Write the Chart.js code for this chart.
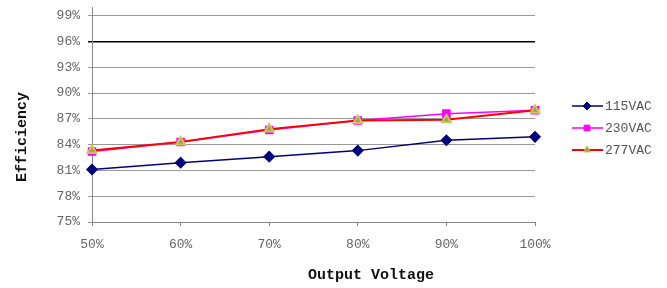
<!DOCTYPE html>
<html>
<head>
<meta charset="utf-8">
<script src="https://cdn.jsdelivr.net/npm/chart.js@4"></script>
<style>
  html, body { margin: 0; padding: 0; background: #fff; }
  #wrap { width: 667px; height: 288px; position: relative; }
</style>
</head>
<body>
<div id="wrap"><canvas id="chart"></canvas></div>
<script>
// ── Data ───────────────────────────────────────────────────────
const LOADS     = ['50%', '60%', '70%', '80%', '90%', '100%'];
const EFF_115   = [81.1, 81.9, 82.6, 83.3, 84.5, 84.9];
const EFF_230   = [83.2, 84.3, 85.7, 86.8, 87.6, 88.0];
const EFF_277   = [83.3, 84.3, 85.8, 86.8, 86.9, 88.0];
const Y_TICKS   = [75, 78, 81, 84, 87, 90, 93, 96, 99];

const FONT = '"Liberation Mono", "DejaVu Sans Mono", monospace';

// ── Plugins: axis titles + side legend (Excel style) ───────────
const axisTitles = {
  id: 'axisTitles',
  afterDraw(chart) {
    const ctx = chart.ctx;
    ctx.save();
    ctx.fillStyle = '#111';
    ctx.font = 'bold 15px ' + FONT;
    ctx.textAlign = 'center';
    ctx.textBaseline = 'middle';
    ctx.fillText('Output Voltage', 371, 275);
    ctx.translate(22, 137);
    ctx.rotate(-Math.PI / 2);
    ctx.fillText('Efficiency', 0, 0);
    ctx.restore();
  }
};

const sideLegend = {
  id: 'sideLegend',
  afterDraw(chart) {
    const ctx = chart.ctx;
    const rowY = [106, 128, 150];
    chart.data.datasets.forEach((ds, i) => {
      const y = rowY[i];
      ctx.save();
      ctx.strokeStyle = ds.borderColor;
      ctx.lineWidth = ds.borderWidth;
      ctx.beginPath();
      ctx.moveTo(572, y);
      ctx.lineTo(603, y);
      ctx.stroke();
      ctx.fillStyle = ds.pointBackgroundColor;
      ctx.strokeStyle = ds.pointBorderColor;
      ctx.lineWidth = 1;
      Chart.helpers.drawPoint(ctx, {
        pointStyle: ds.pointStyle,
        radius: ds.pointRadius - 1,
        rotation: 0,
        borderWidth: 1
      }, 587, y);
      ctx.fillStyle = '#555';
      ctx.font = '13px ' + FONT;
      ctx.textAlign = 'left';
      ctx.textBaseline = 'middle';
      ctx.fillText(ds.label, 605, y + 1);
      ctx.restore();
    });
  }
};

// ── Chart ──────────────────────────────────────────────────────
new Chart(document.getElementById('chart'), {
  type: 'line',
  data: {
    labels: LOADS,
    datasets: [
      {
        label: '115VAC', data: EFF_115,
        borderColor: '#000080', backgroundColor: '#000080',
        pointBackgroundColor: '#000080', pointBorderColor: '#000080',
        borderWidth: 1.5, pointStyle: 'rectRot', pointRadius: 5, order: 2,
      },
      {
        label: '230VAC', data: EFF_230,
        borderColor: '#FF00FF', backgroundColor: '#FF00FF',
        pointBackgroundColor: '#FF00FF', pointBorderColor: '#FF00FF',
        borderWidth: 1.5, pointStyle: 'rect', pointRadius: 5, order: 1,
      },
      {
        label: '277VAC', data: EFF_277,
        borderColor: '#FF0000', backgroundColor: '#FF0000',
        pointBackgroundColor: '#9C9C6A', pointBorderColor: '#C8C850',
        borderWidth: 2, pointStyle: 'triangle', pointRadius: 5, order: 0,
      },
    ],
  },
  options: {
    responsive: true,
    maintainAspectRatio: false,
    animation: false,
    layout: { padding: { top: 5, right: 132, left: 0, bottom: 0 } },
    plugins: { legend: { display: false }, tooltip: { enabled: false } },
    elements: { line: { tension: 0 } },
    scales: {
      x: {
        type: 'category',
        offset: false,
        afterFit: s => { s.height = 66; s.paddingLeft = 0; s.paddingRight = 0; },
        grid: { drawOnChartArea: false, drawTicks: true, tickLength: 4, color: '#888' },
        border: { color: '#888', width: 1 },
        ticks: { color: '#666', font: { family: FONT, size: 13 }, padding: 11, maxRotation: 0 },
      },
      y: {
        min: 75, max: 100,
        afterFit: s => { s.width = 92; s.paddingTop = 0; s.paddingBottom = 0; },
        afterBuildTicks: s => { s.ticks = Y_TICKS.map(v => ({ value: v })); },
        grid: {
          tickLength: 4,
          color: c => (c.tick && c.tick.value === 96 ? '#000' : '#999'),
          lineWidth: c => (c.tick && c.tick.value === 96 ? 1.5 : 1),
        },
        border: { color: '#888', width: 1 },
        ticks: {
          color: '#666', padding: 8,
          font: { family: FONT, size: 13 },
          callback: v => v + '%',
        },
      },
    },
  },
  plugins: [axisTitles, sideLegend],
});
</script>
</body>
</html>
